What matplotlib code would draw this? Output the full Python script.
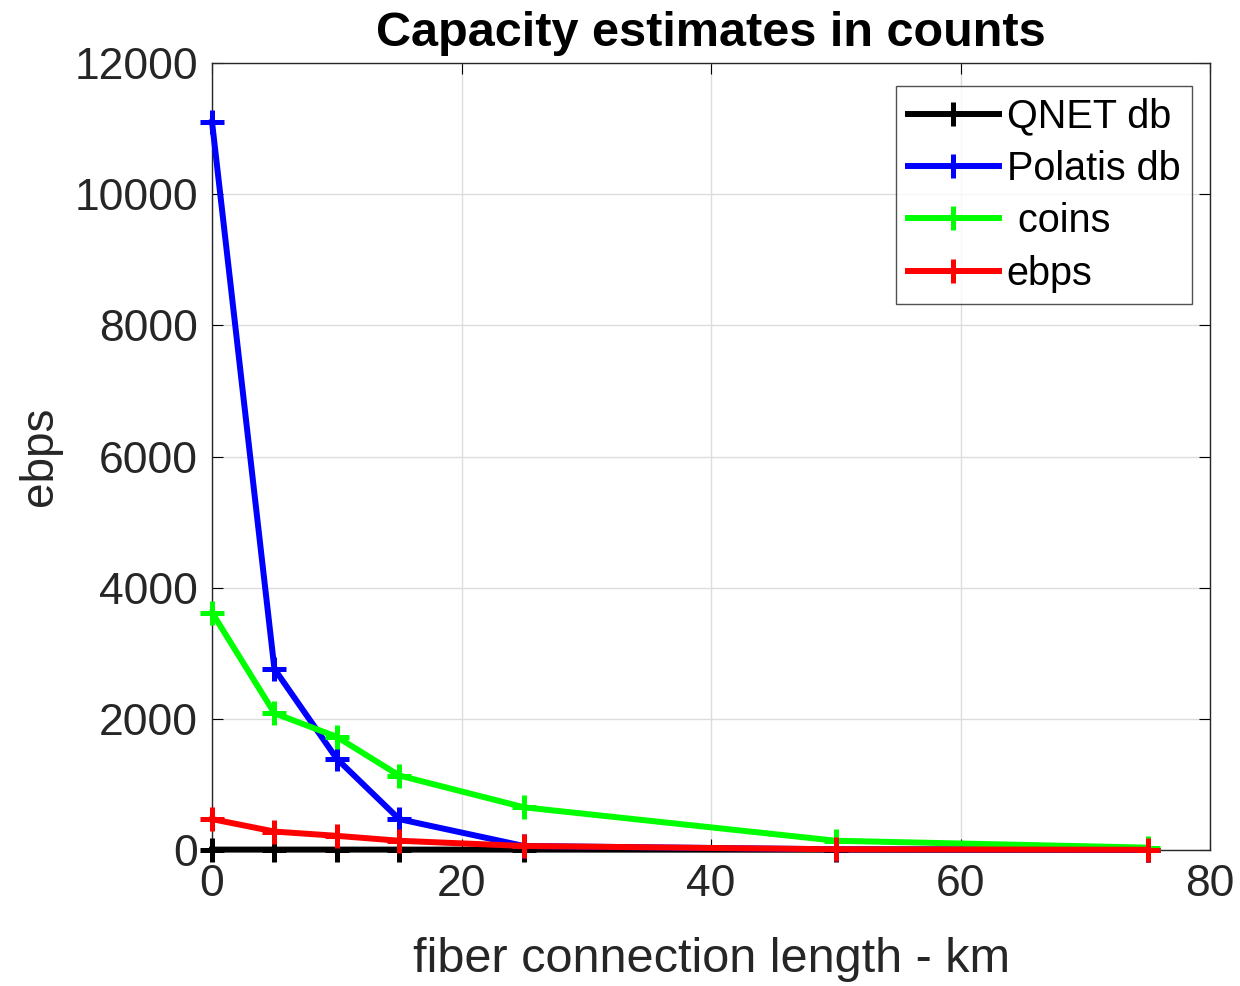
import matplotlib
matplotlib.use("Agg")
import matplotlib.pyplot as plt

plt.rcParams['font.family'] = ['Liberation Sans', 'DejaVu Sans']

# fiber lengths (km)
length_km = [0, 5, 10, 15, 25, 50, 75]

# capacity estimates per source
qnet_db = [5, 5, 5, 5, 5, 3, 2]
polatis_db = [11100, 2760, 1390, 470, 60, 10, 5]
coins = [3620, 2085, 1725, 1135, 650, 140, 35]
ebps = [470, 280, 215, 140, 60, 10, 3]

series = [
    (qnet_db, 'QNET db', '#000000'),
    (polatis_db, 'Polatis db', '#0000ff'),
    (coins, ' coins', '#00ff00'),
    (ebps, 'ebps', '#ff0000'),
]

fig = plt.figure(figsize=(12.4, 9.86), dpi=100)
ax = fig.add_axes([0.171, 0.138, 0.805, 0.798])

for vals, label, color in series:
    ax.plot(length_km, vals, color=color, lw=4.3, marker='+',
            markersize=17, mew=3.6, label=label, clip_on=False, zorder=3)

ax.set_xlim(0, 80)
ax.set_ylim(0, 12000)
ax.set_xticks([0, 20, 40, 60, 80])
ax.set_yticks(range(0, 12001, 2000))
ax.grid(True, color='#dcdcdc', lw=1)
ax.set_axisbelow(True)
ax.tick_params(direction='in', length=8, labelsize=32, pad=10,
               top=True, right=True, labelcolor='#262626')
for sp in ax.spines.values():
    sp.set_color('#262626')
    sp.set_linewidth(1)

ax.set_xlabel('fiber connection length - km', fontsize=35, color='#262626', labelpad=23)
ax.set_ylabel('ebps', fontsize=33, color='#262626', labelpad=9)
ax.set_title('Capacity estimates in counts', fontsize=35, fontweight='bold', pad=12)

leg = ax.legend(loc='upper right', fontsize=28.5, frameon=True, fancybox=False,
                edgecolor='#262626', handlelength=2.3, handletextpad=0.2,
                borderpad=0.3, labelspacing=0.36, borderaxespad=0,
                bbox_to_anchor=(0.982, 0.971))
leg.get_frame().set_linewidth(1)
leg.set_zorder(5)

fig.savefig('out.png', dpi=100, facecolor='white')
